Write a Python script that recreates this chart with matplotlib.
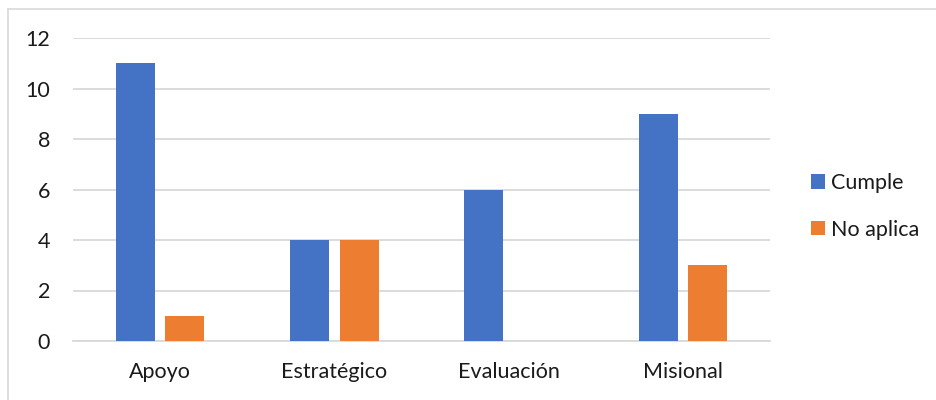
import numpy as np
from matplotlib import pyplot as plt
from matplotlib.lines import Line2D

categories = ['Apoyo', 'Estratégico', 'Evaluación', 'Misional']
cumple = [11, 4, 6, 9]
no_aplica = [1, 4, 0, 3]
series_names = ['Cumple', 'No aplica']
y_ticks = [0, 2, 4, 6, 8, 10, 12]

blue = '#4472C4'
orange = '#ED7D31'
grid_grey = '#D9D9D9'
text_col = '#1a1a1a'

plt.rcParams['font.family'] = ['Lato', 'DejaVu Sans']
plt.rcParams['font.size'] = 15.5

fig = plt.figure(figsize=(9.36, 4.0), dpi=100)
ax = fig.add_axes([0.078, 0.1475, 0.7446, 0.7575])

x = np.arange(len(categories))
w = 0.224
off = 0.142
ax.bar(x - off, cumple, w, color=blue, label=series_names[0], zorder=3)
ax.bar(x + off, no_aplica, w, color=orange, label=series_names[1], zorder=3)

ax.set_xlim(-0.5, len(categories) - 0.5)
ax.set_ylim(0, 12)
ax.set_yticks(y_ticks)
ax.set_xticks(x)
ax.set_xticklabels(categories, color=text_col)
ax.tick_params(axis='y', length=0, pad=16.5, colors=text_col)
ax.tick_params(axis='x', length=0, pad=15, colors=text_col)
ax.yaxis.grid(True, color=grid_grey, linewidth=1.3, zorder=0)
ax.set_axisbelow(True)
for s in ['top', 'right', 'left']:
    ax.spines[s].set_visible(False)
ax.spines['bottom'].set_color(grid_grey)
ax.spines['bottom'].set_linewidth(1.3)

ax.legend(loc='center left', bbox_to_anchor=(0.866, 0.484), bbox_transform=fig.transFigure,
          frameon=False, handlelength=0.65, handleheight=0.65, handletextpad=0.3,
          labelspacing=1.25, borderaxespad=0, borderpad=0, labelcolor=text_col)

# chart area border (top and left visible)
fig.add_artist(Line2D([8 / 936, 1], [1 - 9 / 400, 1 - 9 / 400], transform=fig.transFigure,
                      color=grid_grey, linewidth=1.2))
fig.add_artist(Line2D([8 / 936, 8 / 936], [0, 1 - 9 / 400], transform=fig.transFigure,
                      color=grid_grey, linewidth=1.2))

fig.savefig('out.png', dpi=100)
